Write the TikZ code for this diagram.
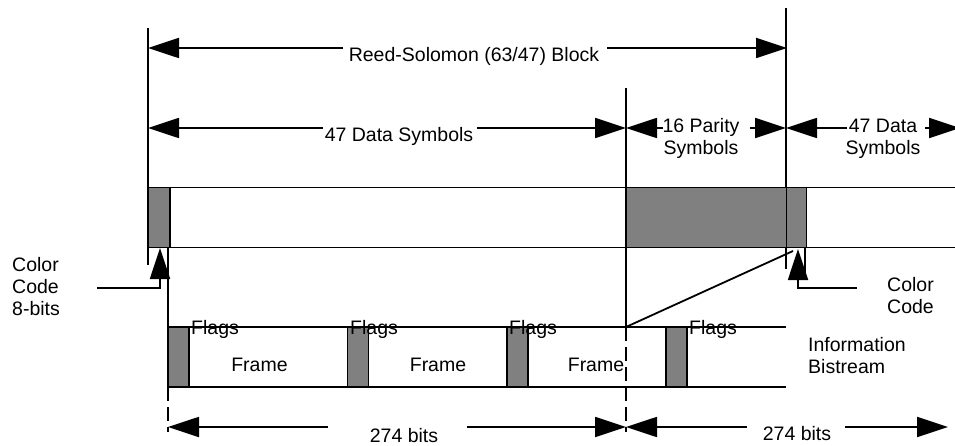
\documentclass[tikz,border=0pt]{standalone}
\usepackage{fontspec}
\setmainfont{Liberation Sans}
\usetikzlibrary{arrows.meta,positioning}

\tikzset{
  >={Triangle[length=31pt,width=20pt]},
  every node/.style={font=\fontsize{19.5}{22}\selectfont, inner sep=0pt},
  % --- lines
  ln/.style   = {line width=1.8pt, draw=black},
  dim/.style  = {ln, ->},
  cut/.style  = {ln, dash pattern=on 14pt off 6pt},
  % --- blocks and texts
  blk/.style  = {ln, fill=black!50, minimum height=60pt},
  txt/.style  = {anchor=base, align=center},
  lft/.style  = {anchor=base west, align=left},
}

\begin{document}
\begin{tikzpicture}[x=1pt, y=-1pt]
  \useasboundingbox (0,0) rectangle (955,446);

  % --- guide lines
  \coordinate (lTop) at (148,28);   \coordinate (lBot) at (148,265);
  \coordinate (rTop) at (786,8);    \coordinate (rBot) at (786,269);
  \coordinate (mTop) at (626,88);   \coordinate (mFr)  at (626,327);
  \coordinate (mBot) at (626,432);
  \coordinate (fTop) at (168,247.5); \coordinate (fFr)  at (168,327);
  \coordinate (fBot) at (168,432);
  \coordinate (cTop) at (805,247.5); \coordinate (cBot) at (805,276);
  \draw[ln] (lTop) -- (lBot);
  \draw[ln] (rTop) -- (rBot);
  \draw[ln] (mTop) -- (mFr);
  \draw[cut] (mFr) -- (mBot);
  \draw[ln] (fTop) -- (fFr);
  \draw[cut] (fFr) -- (fBot);
  \draw[ln] (cTop) -- (cBot);

  % --- symbol row
  \draw[ln] (148,187.5) -- (955,187.5);
  \draw[ln] (148,247.5) -- (955,247.5);
  \node[blk, minimum width=22pt] (cc) at (159,217.5) {};
  \node[blk, minimum width=160pt] (par) at (706.5,217.5) {};
  \node[blk, minimum width=20pt] (cc2) at (796.5,217.5) {};

  % --- frame row
  \draw[ln] (168,327) -- (786,327);
  \draw[ln] (168,387) -- (786,387);
  \draw[ln] (mFr) -- (793,251);
  \foreach \x/\t [count=\i] in {178.5/191, 358/350, 517.5/509, 676.5/689} {
    \node[blk, minimum width=21pt] (fl\i) at (\x,357) {};
    \node[lft] (flt\i) at (\t,334) {Flags};
  }
  \foreach \x [count=\i] in {259.5, 438, 596}
    \node[txt] (fr\i) at (\x,371.5) {Frame};
  \node[lft] (info) at (808,373) {Information\\Bistream};

  % --- block dimensions
  \node[txt] (rs) at (474,62) {Reed-Solomon (63/47) Block};
  \draw[dim] (343,48) -- (148,48);
  \draw[dim] (607,48) -- (787,48);

  \node[txt] (d47) at (399,141.5) {47 Data Symbols};
  \draw[dim] (323,128) -- (148,128);
  \draw[dim] (477,128) -- (626,128);

  \node[txt] (p16) at (701,155) {16 Parity\\Symbols};
  \draw[dim] (663,128) -- (626,128);
  \draw[dim] (750,128) -- (786,128);

  \node[txt] (d47b) at (883,155) {47 Data\\Symbols};
  \draw[dim] (847,128) -- (786,128);
  \draw[dim] (925,128) -- (960,128);

  % --- colour code leaders
  \node[lft] (ccl) at (12,315.5) {Color\\Code\\8-bits};
  \draw[dim] (97,288) -| (160,248);
  \node[lft] (ccr) at (887,313) {Color\\Code};
  \draw[dim] (857,288) -| (798,249);

  % --- bit counts
  \node[txt] (b1) at (404,442.5) {274 bits};
  \draw[dim] (328,427) -- (168,427);
  \draw[dim] (467,427) -- (626,427);
  \node[txt] (b2) at (797,440.5) {274 bits};
  \draw[dim] (747,427) -- (626,427);
  \draw[dim] (845,427) -- (948,427);
\end{tikzpicture}
\end{document}
